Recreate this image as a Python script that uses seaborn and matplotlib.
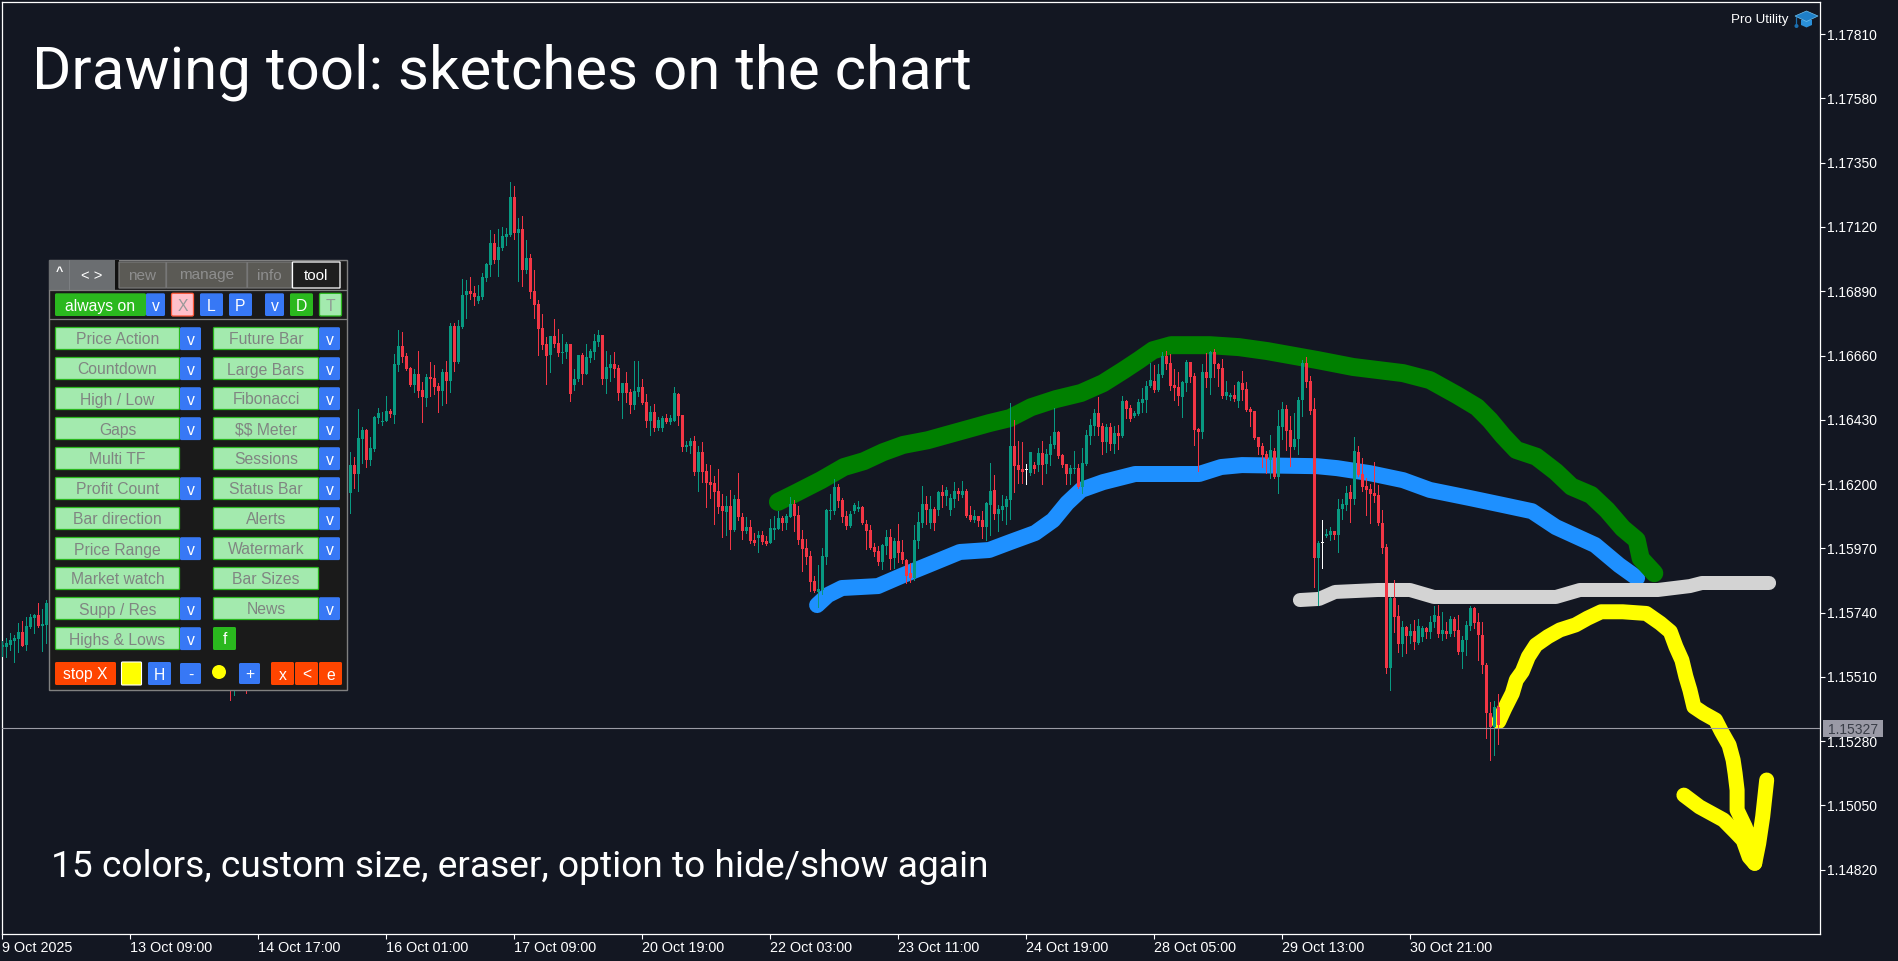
import numpy as np
import matplotlib
matplotlib.use("Agg")
import matplotlib.pyplot as plt
from matplotlib.patches import FancyBboxPatch, Rectangle, Circle, Polygon
import seaborn as sns

# ---------- data (prices in 1e-5 units) ----------
bars = list(range(0, 12)) + [57, 58, 61] + list(range(87, 375))
candle_dir = ("UUUUUDUUUDUU DUD "
 "UDUUDUUUUUDUUDDDUDDUDDDUDUDUUUDDUUUUDUUUUDUDUDDDDDUDD "
 "UUDUU DUUUU DUUDD UDDUU DDUDU UDUUD DUUDU DDDDD DUDUD DUDDU DDUUU DUUDD "
 "DDDDU UUUUD DDUUU DDDDD UUDUD DDDUU UDUDU DUUUD UDDUD DUUDU UUUDD DW "
 "UDUDU UUDDD UUDUU UUDDU DUDUD DUUUU UDUUD DDDUU DDDUD UDDDU UDUDD DDDDD "
 "UDUUD DUUUD DDUWU UDUUU DUDDD DDDDD UDDUD UDUUD UUDUD UDDUU UDDDD DUD").replace(" ", "")
highs = [115638,115649,115667,115660,115703,115710,115724,115735,115735,115774,115753,115785,115510,115500,115510,
116314,116297,116468,116404,116397,116368,116443,116472,116458,116515,116468,116665,116751,116744,116669,116619,116612,116676,116565,116594,116637,116626,116561,116612,116640,116776,116776,116787,116934,116930,116941,116909,116912,116955,116991,117109,117095,117113,117120,117116,117281,117267,117152,117159,117073,117023,116966,116859,116808,116726,116730,116790,116755,
116737,116708,116701,116612,116662,116669,116701,116683,116737,116751,116733,116676,116662,116672,116626,116562,116601,116540,116640,116640,116576,116522,116479,116486,116440,116443,116451,116447,116547,116526,116447,116354,116365,116372,116336,116350,116272,116268,116229,116254,116164,116157,116179,116161,116239,116096,116082,116071,116025,116032,116032,116014,116075,116086,116103,116086,116093,116154,116143,116121,
116035,116003,115960,115871,115910,115971,116111,116164,116218,116200,116150,116103,116103,116132,116139,116121,116071,116053,115989,115978,115985,116035,116039,116007,116057,116000,115932,115917,116053,116100,116193,116157,116157,116118,116175,116196,116189,116164,116207,116186,116211,116182,116121,116107,116085,116103,116136,116275,116232,116125,116161,116157,116490,116429,116354,116350,116272,
116314,116278,116328,116354,116325,116371,116472,116389,116307,116271,116268,116318,116271,116328,116393,116432,116468,116511,116418,116414,116418,116407,116411,116515,116500,116482,116461,116504,116543,116568,116633,116626,116629,116672,116676,116665,116611,116600,116568,116643,116636,116597,116400,116629,116668,116676,116683,116633,116647,116568,116525,116554,116568,116604,116565,116475,116461,116368,116346,116318,
116376,116329,116465,116494,116483,116444,116454,116512,116644,116654,116587,116508,115996,116071,116039,116046,116032,116147,116147,116193,116197,116368,116336,116293,116222,116200,116279,116197,116107,115985,115796,115857,115767,115710,115692,115699,115713,115717,115692,115688,115728,115764,115767,115742,115706,115728,115724,115731,115656,115710,115764,115760,115739,115706,115560,115420,115424,115449]
body_tops = [115624,115631,115642,115649,115670,115670,115692,115724,115731,115731,115699,115774,115505,115495,115500,
116268,116268,116365,116393,116393,116329,116440,116454,116425,116461,116461,116629,116694,116694,116658,116615,116594,116594,116536,116583,116583,116579,116551,116601,116601,116765,116765,116765,116876,116891,116891,116884,116873,116941,116987,117063,117063,117048,117088,117095,117227,117227,117113,117113,117009,117009,116891,116844,116758,116701,116730,116730,116705,
116672,116701,116701,116576,116662,116662,116655,116676,116712,116733,116733,116619,116630,116630,116615,116562,116562,116529,116533,116547,116547,116494,116458,116458,116429,116436,116436,116436,116526,116522,116447,116340,116354,116354,116315,116315,116247,116207,116204,116175,116121,116121,116121,116146,116146,116082,116046,116046,115999,116018,116018,115996,116043,116043,116078,116078,116086,116128,116128,116089,
116003,115971,115942,115853,115824,115942,116107,116107,116189,116189,116143,116085,116093,116125,116118,116118,116057,116035,115975,115960,115982,116010,116010,115996,115996,115957,115928,115881,116000,116064,116128,116128,116111,116111,116171,116171,116179,116150,116175,116175,116175,116175,116089,116085,116085,116071,116132,116175,116179,116111,116121,116146,116336,116336,116268,116254,116249,
116314,116268,116311,116311,116307,116343,116386,116386,116303,116271,116257,116256,116257,116275,116375,116411,116454,116454,116407,116404,116404,116382,116382,116497,116497,116472,116454,116493,116504,116550,116572,116568,116593,116658,116658,116633,116554,116547,116565,116636,116636,116586,116396,116600,116600,116672,116672,116629,116615,116529,116518,116518,116565,116561,116540,116468,116461,116368,116336,116307,
116322,116318,116408,116469,116469,116393,116361,116501,116633,116632,116569,116469,115989,115988,116021,116032,116032,116111,116129,116168,116172,116318,116315,116236,116193,116182,116168,116161,116061,115975,115792,115792,115728,115688,115688,115674,115674,115692,115685,115685,115706,115731,115728,115678,115674,115717,115717,115678,115642,115696,115756,115756,115706,115660,115552,115381,115402,115402]
body_bottoms = [115618,115617,115624,115638,115645,115620,115624,115688,115721,115692,115692,115696,115495,115480,115490,
116169,116236,116236,116361,116286,116286,116325,116436,116423,116425,116451,116447,116626,116655,116612,116554,116554,116533,116511,116508,116576,116547,116533,116533,116569,116569,116637,116637,116762,116876,116880,116869,116855,116869,116937,116984,117002,117002,117045,117084,117091,117098,117098,116966,116966,116887,116841,116755,116697,116658,116662,116701,116669,
116670,116672,116522,116554,116576,116594,116594,116651,116672,116708,116576,116576,116615,116612,116526,116526,116526,116483,116483,116529,116490,116426,116426,116400,116400,116400,116422,116422,116426,116443,116332,116332,116336,116243,116243,116243,116204,116196,116171,116118,116103,116100,116035,116035,116082,116032,116032,115996,115989,116007,115992,115985,115989,116035,116039,116060,116060,116082,116086,115999,
115967,115939,115849,115816,115815,115821,115939,116103,116103,116139,116082,116050,116050,116103,116111,116060,116032,115971,115957,115921,115921,115978,115932,115935,115953,115928,115871,115864,115864,115996,116060,116107,116060,116060,116107,116157,116157,116107,116146,116164,116161,116085,116071,116071,116068,116046,116046,116125,116093,116093,116107,116118,116143,116264,116250,116243,116249,
116239,116253,116268,116268,116271,116303,116339,116300,116268,116235,116235,116253,116189,116189,116271,116371,116407,116404,116350,116350,116343,116343,116371,116371,116468,116432,116443,116450,116490,116500,116550,116536,116536,116590,116629,116550,116543,116515,116511,116561,116583,116393,116386,116386,116579,116579,116629,116611,116515,116515,116510,116504,116497,116536,116465,116457,116364,116332,116303,116289,
116286,116225,116225,116404,116390,116333,116333,116361,116501,116566,116461,115935,115935,115988,116014,116018,116018,116018,116111,116125,116147,116147,116232,116189,116179,116164,116157,116061,115971,115542,115542,115724,115628,115628,115656,115656,115635,115631,115653,115670,115670,115706,115663,115663,115663,115663,115674,115599,115599,115642,115692,115703,115660,115552,115381,115330,115330,115338]
lows = [115585,115581,115606,115563,115599,115620,115606,115685,115667,115688,115602,115631,115427,115445,115452,
116097,116186,116175,116275,116261,116268,116318,116418,116411,116425,116440,116418,116604,116637,116608,116551,116529,116511,116422,116479,116515,116522,116458,116483,116490,116529,116604,116633,116758,116794,116862,116841,116848,116862,116927,116944,116991,116944,117037,117055,117088,117077,116927,116909,116955,116866,116794,116662,116683,116558,116601,116690,116658,
116633,116651,116497,116536,116569,116558,116594,116637,116647,116694,116558,116526,116569,116583,116501,116436,116494,116454,116468,116515,116486,116404,116375,116390,116393,116390,116418,116415,116426,116411,116318,116318,116311,116232,116175,116207,116118,116150,116057,116096,116010,116018,115967,116032,116071,116003,116025,115989,115982,115957,115985,115982,115989,116003,116039,116035,116039,116082,116032,115985,
115889,115914,115817,115813,115760,115806,115914,116075,116093,116118,116064,116039,116046,116096,116103,116057,115967,115967,115942,115910,115896,115949,115896,115899,115921,115917,115846,115849,115856,115971,116046,116057,116042,116035,116089,116118,116125,116089,116118,116143,116153,116082,116068,116064,116050,116007,116000,116017,116075,116032,116071,116057,116075,116171,116204,116204,116200,
116232,116239,116246,116200,116239,116268,116328,116293,116260,116200,116200,116239,116185,116167,116268,116343,116375,116375,116307,116314,116321,116311,116325,116368,116436,116425,116439,116447,116457,116457,116547,116529,116532,116583,116611,116536,116500,116482,116439,116532,116565,116339,116246,116364,116547,116522,116583,116550,116507,116504,116500,116497,116475,116500,116461,116407,116361,116307,116260,116239,
116220,116222,116168,116361,116322,116265,116325,116308,116444,116549,116451,115832,115767,115900,116011,116000,116003,115957,116075,116107,116064,116129,116229,116175,116089,116061,116136,116053,115953,115524,115463,115671,115599,115585,115595,115631,115610,115628,115638,115649,115649,115688,115653,115642,115649,115656,115656,115592,115542,115588,115678,115685,115570,115524,115291,115212,115230,115270]

bid_price = 1.15327
price_ticks = [1.17810,1.17580,1.17350,1.17120,1.16890,1.16660,1.16430,1.16200,1.15970,1.15740,1.15510,1.15280,1.15050,1.14820]
time_labels = ["9 Oct 2025","13 Oct 09:00","14 Oct 17:00","16 Oct 01:00","17 Oct 09:00","20 Oct 19:00",
               "22 Oct 03:00","23 Oct 11:00","24 Oct 19:00","28 Oct 05:00","29 Oct 13:00","30 Oct 21:00"]
time_ticks = [0,32,64,96,128,160,192,224,256,288,320,352]

green_x = [193.9,198.4,204.7,210.4,215.4,220.2,225.2,231.4,235.9,242.2,246.7,251.9,257.2,263.4,269.7,275.2,280.4,284.2,287.7,292.2,301.9,309.2,316.2,328.7,337.7,350.2,356.9,363.7,368.7,371.9,375.2,378.5,383.5,388.4,392.3,397.2,401.2,405.1,408.6,409.6,413.0]
green_y = [116136,116168,116214,116261,116282,116314,116340,116357,116375,116400,116418,116436,116475,116504,116526,116561,116608,116644,116679,116697,116697,116690,116676,116644,116619,116597,116572,116518,116475,116429,116372,116322,116298,116244,116191,116161,116107,116042,116000,115934,115881]
blue_x = [203.7,206.4,209.9,218.9,225.2,231.4,239.4,246.7,251.9,258.2,262.7,266.2,269.7,275.2,283.2,299.2,304.7,309.9,328.7,333.7,341.9,350.2,356.9,366.9,375.2,382.4,388.4,398.2,404.2,408.7]
blue_y = [115767,115803,115828,115835,115874,115910,115957,115964,115992,116025,116071,116132,116179,116207,116236,116236,116261,116268,116264,116257,116239,116214,116179,116150,116125,116103,116046,115982,115910,115864]
gray_x = [324.4,329.2,333.2,343.9,351.9,357.9,388.4,394.4,413.9,421.9,424.9,441.7]
gray_y = [115785,115789,115814,115821,115821,115796,115796,115821,115821,115835,115846,115846]
yellow_x = [374.1,375.6,377.5,378.5,380.0,381.5,383.4,386.4,389.4,393.3,396.3,399.7,405.1,411.0,414.5,417.0,418.4,419.9,420.9,421.9,422.9,425.3,428.3,429.8,431.7,432.7,433.2,433.7,433.7,435.7,437.6,438.1,439.1,440.1,441.1]
yellow_y = [115350,115397,115451,115499,115529,115582,115624,115654,115678,115696,115720,115743,115743,115737,115702,115672,115618,115570,115511,115463,115403,115380,115356,115314,115266,115213,115165,115105,115034,114974,114902,114843,114914,115010,115141]
wing_x = [420.4,424.3,430.3,433.2,435.2,436.7,438.1]
wing_y = [115087,115045,114998,114956,114926,114866,114843]

left_col = ["Price Action","Countdown","High / Low","Gaps","Multi TF","Profit Count","Bar direction","Price Range","Market watch","Supp / Res","Highs & Lows"]
left_has_v = [1,1,1,1,0,1,0,1,0,1,1]
right_col = ["Future Bar","Large Bars","Fibonacci","$$ Meter","Sessions","Status Bar","Alerts","Watermark","Bar Sizes","News"]
right_has_v = [1,1,1,1,1,1,1,1,0,1]

# ---------- style ----------
BG = "#131722"; UP = "#089981"; DOWN = "#f23645"; WHITE = "#ffffff"
BLUE = "#3778f5"; GRN = "#2ab81e"; LGRN = "#a3eaae"; ORG = "#ff4500"; TXT = "#808582"
sns.set_theme(style="dark", rc={"axes.facecolor": BG, "figure.facecolor": BG})
plt.rcParams["font.family"] = ["Liberation Sans", "DejaVu Sans"]

W, H = 1898, 961
fig = plt.figure(figsize=(W/100, H/100), dpi=100)
ax = fig.add_axes([2/W, 1-934/H, (1820-2)/W, (934-2)/H])
ax.set_facecolor(BG)

to_price = lambda a: np.asarray(a, float) / 1e5

# freehand strokes: under the candles
def stroke(x, y, color, px):
    sns.lineplot(x=np.asarray(x), y=to_price(y), ax=ax, color=color, linewidth=px*0.72, sort=False,
                 estimator=None, legend=False, solid_capstyle="round", solid_joinstyle="round", zorder=2)

stroke(blue_x, blue_y, "#1e90ff", 16)
stroke(green_x, green_y, "#008000", 18)
stroke(gray_x, gray_y, "#d3d3d3", 14)
stroke(yellow_x, yellow_y, "#ffff00", 15)
stroke(wing_x, wing_y, "#ffff00", 15)

# candles
xb = np.asarray(bars, float)
hi, lo, top, bot = map(to_price, (highs, lows, body_tops, body_bottoms))
colmap = {"U": UP, "D": DOWN, "W": WHITE}
cols = [colmap[c] for c in candle_dir]
ax.vlines(xb, lo, hi, colors=cols, linewidth=0.72, antialiased=False, zorder=3)
one_px = 3.578e-5
heights = np.maximum(top - bot, one_px)
ax.bar(xb, heights, width=0.75, bottom=bot, color=cols, linewidth=0, antialiased=False, zorder=4)

ax.axhline(bid_price, color="#9c9ca6", lw=0.8, zorder=5)

ax.set_xlim(-0.075, 454.425)
ax.set_ylim(1.14590, 1.17925)
for s in ax.spines.values():
    s.set_color(WHITE); s.set_linewidth(0.9); s.set_visible(True)
ax.yaxis.tick_right()
ax.set_yticks(price_ticks)
ax.set_yticklabels([f"{p:.5f}" for p in price_ticks])
ax.set_xticks(time_ticks)
ax.set_xticklabels(time_labels, ha="left")
ax.tick_params(axis="y", colors=WHITE, length=3.6, width=0.8, pad=1.5, labelsize=10, left=False, right=True)
ax.tick_params(axis="x", colors=WHITE, length=3.4, width=0.8, pad=1.8, labelsize=10.4, bottom=True)
ax.grid(False)

# ---------- overlay in figure pixels: panel, captions ----------
ov = fig.add_axes([0, 0, 1, 1], zorder=10)
ov.set_xlim(0, W); ov.set_ylim(H, 0); ov.axis("off"); ov.patch.set_alpha(0)

def btn(x0, y0, x1, y1, face, edge=None, label=None, color="white", fs=11.3, round_=1.5, lw=0.9, dy=0):
    ov.add_patch(FancyBboxPatch((x0, y0), x1-x0, y1-y0, boxstyle=f"round,pad=0,rounding_size={round_}",
                                fc=face, ec=edge if edge else face, lw=lw if edge else 0))
    if label:
        ov.text((x0+x1)/2, (y0+y1)/2+dy, label, color=color, fontsize=fs, ha="center", va="center_baseline",
                parse_math=False)

ov.add_patch(Rectangle((49.5, 259.5), 298, 430, fc="#1a1a1a", ec="#808080", lw=1.0))
ov.add_patch(Rectangle((49.5, 259.5), 25, 30, fc="#6b6e71", ec="none"))
ov.add_patch(Rectangle((70, 259.5), 45, 30, fc="#6b6e71", ec="none"))
ov.plot([69.5, 69.5], [259.5, 289], color="#7c7f82", lw=0.8)
ov.text(59, 272, "^", color="white", fontsize=9, ha="center", va="center", fontweight="bold")
ov.text(92, 274, "< >", color="white", fontsize=10.5, ha="center", va="center_baseline")
ov.add_patch(Rectangle((115, 260), 4, 29, fc="#111111", ec="none"))
btn(119, 262, 166, 288, "#5b5a55", "#777777", "new", "#8e8e8e", 11, 0, dy=-1)
btn(166.5, 262, 247, 288, "#5b5a55", "#777777", "manage", "#8e8e8e", 11, 0, dy=-1)
btn(247.5, 262, 291.5, 288, "#5b5a55", "#777777", "info", "#8e8e8e", 11, 0, dy=-1)
btn(292.5, 262, 340, 288, "#1e1e1e", "#ffffff", "tool", "#ffffff", 11, 0, dy=-1)
ov.plot([49.5, 347.5], [289.5, 289.5], color="#808080", lw=0.9)
ov.plot([49.5, 347.5], [318.5, 318.5], color="#808080", lw=0.9)

ry0, ry1 = 293.3, 316
btn(55, ry0, 146, ry1, GRN, None, "always on", "white", 11.3)
btn(146, ry0, 165, ry1, BLUE, None, "v")
btn(171.5, ry0, 193.5, ry1, "#ffc0cb", "#ff5a3c", "X", "#999999")
btn(200, ry0, 223, ry1, BLUE, None, "L")
btn(229, ry0, 252, ry1, BLUE, None, "P")
btn(265, ry0, 284, ry1, BLUE, None, "v")
btn(290, ry0, 313, ry1, GRN, None, "D")
btn(319.5, ry0, 341.5, ry1, LGRN, GRN, "T", "#909a94")

for k, name in enumerate(left_col):
    y0 = 327.5 + 30*k
    btn(55.5, y0, 179.5, y0+22, LGRN, GRN, name, TXT, round_=1)
    if left_has_v[k]:
        btn(180, y0-0.3, 201, y0+22.6, BLUE, None, "v")
for k, name in enumerate(right_col):
    y0 = 327.5 + 30*k
    btn(213.5, y0, 318.5, y0+22, LGRN, GRN, name, TXT, round_=1)
    if right_has_v[k]:
        btn(319, y0-0.3, 340, y0+22.6, BLUE, None, "v")
btn(213, 627, 236, 650, GRN, None, "f")

by0, by1 = 662, 685
btn(55, by0, 116, by1, ORG, None, "stop X", "white", 11.3)
btn(121.5, by0, 141.5, by1, "#ffff00", "#ffffff", None, round_=1, lw=0.8)
btn(148, by0, 171, by1, BLUE, None, "H")
btn(180, by0+1, 201, by1-1, BLUE, None, "-")
ov.add_patch(Circle((219, 672), 7, fc="#ffff00", ec="none"))
btn(239, by0+1, 260, by1-1, BLUE, None, "+")
btn(271, by0, 294, by1, ORG, None, "x")
btn(295, by0, 318, by1, ORG, None, "<")
btn(319, by0, 342, by1, ORG, None, "e")

# captions
ov.text(32, 72, "Drawing tool: sketches on the chart", color="white", fontsize=43.2, family="Roboto",
        ha="left", va="center")
ov.text(51, 867, "15 colors, custom size, eraser, option to hide/show again", color="white", fontsize=26.7,
        family="Roboto", ha="left", va="center")
ov.text(1731, 20, "Pro Utility", color="white", fontsize=9.6, ha="left", va="center")

# mortarboard icon
ov.add_patch(Polygon([(1801, 20), (1801, 25), (1806.5, 27.5), (1812, 25), (1812, 20)], fc="#2b90d9", ec="none"))
ov.add_patch(Polygon([(1795, 16), (1806.5, 11), (1818, 16), (1806.5, 21.5)], fc="#1f7fc7", ec="#6fc0ee", lw=0.5))
ov.plot([1796.5, 1796.5], [17, 25], color="#1b6fb0", lw=0.9)
ov.add_patch(Circle((1796.5, 26), 2, fc="#1b6fb0", ec="none"))

# bid price box
ov.add_patch(Rectangle((1823, 720), 60, 17, fc="#9a9aa6", ec="none"))
ov.text(1853, 729, f"{bid_price:.5f}", color="#3a3e48", fontsize=10, ha="center", va="center_baseline")

fig.savefig("out.png", dpi=100, facecolor=BG)
